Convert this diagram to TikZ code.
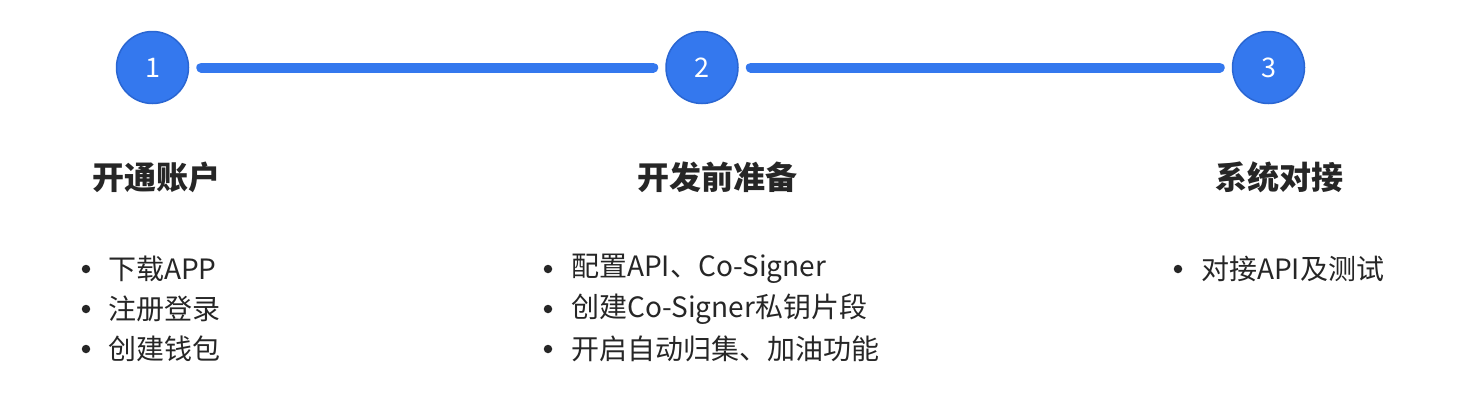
\documentclass[tikz,border=0pt]{standalone}
\usepackage{fontspec}
\setmainfont{Noto Sans CJK SC}
\definecolor{stepblue}{HTML}{3478EE}
\definecolor{stepedge}{HTML}{2A66D2}
\definecolor{txt}{HTML}{262626}
\begin{document}
\begin{tikzpicture}[x=1pt,y=-1pt,
  stepnum/.style={circle,fill=stepblue,draw=stepedge,line width=1.5pt,minimum size=72pt,inner sep=0pt,text=white,font=\fontsize{27}{30}\selectfont},
  link/.style={stepblue,line width=10pt,line cap=round,shorten <=12pt,shorten >=12pt},
  ttl/.style={font=\fontsize{32}{36}\selectfont\bfseries,text=txt,inner sep=0pt},
  item/.style={anchor=west,font=\fontsize{28}{30}\selectfont,text=txt,inner sep=0pt},
  dot/.style={circle,fill=txt,inner sep=0pt,minimum size=8.5pt}]
\useasboundingbox (0,0) rectangle (1470,400);
\node[stepnum] (c1) at (152.5,67.5) {1};
\node[stepnum] (c2) at (702,67.5) {2};
\node[stepnum] (c3) at (1268.5,67.5) {3};
\draw[link] (c1.east) -- (c2.west);
\draw[link] (c2.east) -- (c3.west);
\node[ttl] (t1) at (156,177) {开通账户};
\node[ttl] (t2) at (717.5,177) {开发前准备};
\node[ttl] (t3) at (1279,177) {系统对接};
% column 1
\node[dot] (d11) at (86,269) {};
\node[item] (i11) at (108,269) {下载APP};
\node[dot] (d12) at (86,309) {};
\node[item] (i12) at (108,309) {注册登录};
\node[dot] (d13) at (86,349) {};
\node[item] (i13) at (108,349) {创建钱包};
% column 2
\node[dot] (d21) at (548,269) {};
\node[item] (i21) at (571,269) {配置API、Co-Signer};
\node[dot] (d22) at (548,309) {};
\node[item] (i22) at (571,309) {创建Co-Signer私钥片段};
\node[dot] (d23) at (548,349) {};
\node[item] (i23) at (571,349) {开启自动归集、加油功能};
% column 3
\node[dot] (d31) at (1178,269) {};
\node[item] (i31) at (1201,269) {对接API及测试};
\end{tikzpicture}
\end{document}
